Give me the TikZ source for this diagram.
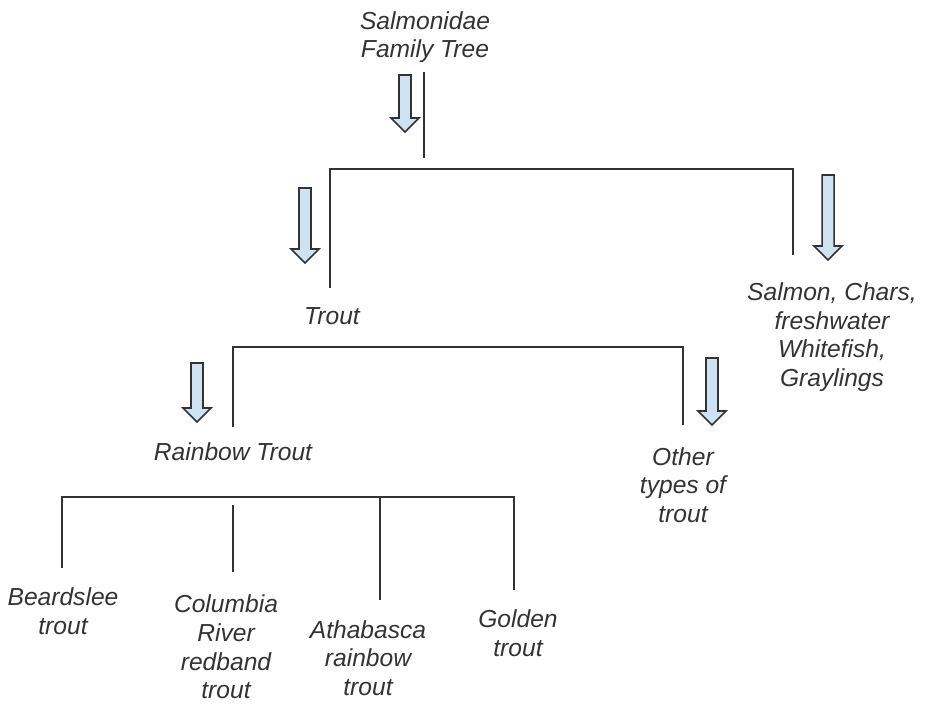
\documentclass[tikz,border=0pt]{standalone}
\usepackage{fontspec}
\setmainfont{Liberation Sans}
\usetikzlibrary{positioning}

\definecolor{arrowblue}{HTML}{CFE2F3}
\definecolor{inkgray}{HTML}{333333}

% block arrow pointing down: x, top, bottom (pixel units)
\newcommand{\FlowArrow}[3]{%
  \draw[arrowline] (#1-6,#2) -- (#1+6,#2) -- (#1+6,#3-14) -- (#1+14,#3-14)
    -- (#1,#3) -- (#1-14,#3-14) -- (#1-6,#3-14) -- cycle;}

\tikzset{
  leaf/.style={align=center, text=inkgray, inner sep=0pt,
    font=\fontsize{21}{24.5}\selectfont\itshape},
  branch/.style={draw=inkgray, line width=1.9pt},
  arrowline/.style={draw=inkgray, fill=arrowblue, line width=1.3pt, line join=miter}
}

\begin{document}
\begin{tikzpicture}[x=0.03cm, y=-0.03cm]
        \useasboundingbox (0,0) rectangle (927,704);

        \node[leaf] (family) at (425,37) {Salmonidae\\Family Tree};
        \node[leaf] (trout) at (332,316) {Trout};
        \node[leaf] (salmon) at (832,337) {Salmon, Chars,\\freshwater\\Whitefish,\\Graylings};
        \node[leaf] (rainbow) at (233,452) {Rainbow Trout};
        \node[leaf] (other) at (683,485) {Other\\types of\\trout};
        \node[leaf] (beard) at (63,611) {Beardslee\\trout};
        \node[leaf] (columbia) at (226,647) {Columbia\\River\\redband\\trout};
        \node[leaf] (athabasca) at (368,658) {Athabasca\\rainbow\\trout};
        \node[leaf] (golden) at (518,633) {Golden\\trout};

        \coordinate (R0) at (424,72);
        \coordinate (R1) at (424,158);
        \coordinate (S0) at (330,288);
        \coordinate (S1) at (330,169);
        \coordinate (S2) at (793,169);
        \coordinate (S3) at (793,255);
        \coordinate (T0) at (233,427);
        \coordinate (T1) at (233,347);
        \coordinate (T2) at (683,347);
        \coordinate (T3) at (683,425);
        \coordinate (U0) at (62,568);
        \coordinate (U1) at (62,497);
        \coordinate (U2) at (514,497);
        \coordinate (U3) at (514,590);
        \coordinate (V0) at (233,505);
        \coordinate (V1) at (233,572);
        \coordinate (W0) at (380,497);
        \coordinate (W1) at (380,600);

        \draw[branch] (R0) -- (R1);% Family stem
        \draw[branch] (S0) -- (S1) -- (S2) -- (S3);% Family split
        \draw[branch] (T0) -- (T1) -- (T2) -- (T3);% Trout split
        \draw[branch] (U0) -- (U1) -- (U2) -- (U3);% Rainbow split
        \draw[branch] (V0) -- (V1);
        \draw[branch] (W0) -- (W1);

        \FlowArrow{405}{75}{132}
        \FlowArrow{305}{188}{263}
        \FlowArrow{828}{175}{260}
        \FlowArrow{197}{363}{422}
        \FlowArrow{712}{358}{425}
    \end{tikzpicture}
\end{document}
